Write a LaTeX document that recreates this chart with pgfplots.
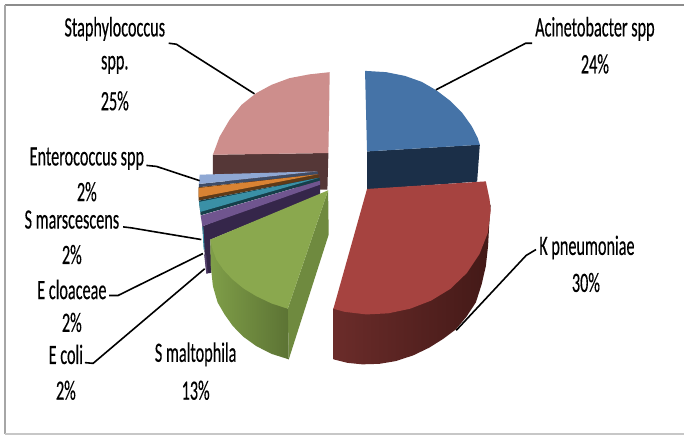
\documentclass[border=0pt]{standalone}
\usepackage{pgfplots}
\pgfplotsset{compat=1.18}
\usepackage{fontspec}
\setmainfont{Carlito}
\definecolor{blueT}{HTML}{4573A7}\definecolor{blueS}{HTML}{1B2F48}
\definecolor{redT}{HTML}{A64340}\definecolor{redA}{HTML}{6B2C2A}\definecolor{redB}{HTML}{431917}
\definecolor{greenT}{HTML}{8AA84E}\definecolor{greenS}{HTML}{6F8A3F}\definecolor{greenA}{HTML}{7F9E48}\definecolor{greenB}{HTML}{5C7334}
\definecolor{pinkT}{HTML}{CD8E8C}\definecolor{pinkS}{HTML}{553737}
\definecolor{periT}{HTML}{8FA8D4}\definecolor{periS}{HTML}{3E4C66}
\definecolor{oranT}{HTML}{D98333}\definecolor{oranS}{HTML}{5E3A18}
\definecolor{tealT}{HTML}{3A90A6}\definecolor{tealS}{HTML}{163F4A}
\definecolor{purpT}{HTML}{70558F}\definecolor{purpS}{HTML}{35264A}
\newcommand{\lab}[3]{\node[inner sep=0pt,anchor=center] at (axis cs:#1,#2) {\fontsize{28}{28}\selectfont\addfontfeature{FakeBold=0.4}\scalebox{0.58}[1]{#3}};}
\tikzset{leader/.style={black,solid,no markers,line width=1.6pt}}
\begin{document}
\begin{tikzpicture}
\begin{axis}[
  width=685pt,height=436pt,scale only axis,
  xmin=0,xmax=685,ymin=0,ymax=436,y dir=reverse,
  hide axis,clip=false]
% page background
\addplot[fill=white,draw=none] coordinates {(0,0) (685,0) (685,436) (0,436)} --cycle;
% outer frame
\addplot[draw=black!45,line width=2.5pt,no markers] coordinates {(5,5) (685,5)};
\addplot[draw=black!35,line width=1.5pt,no markers] coordinates {(5,5) (5,435)};
\addplot[draw=black!22,line width=1.5pt,no markers] coordinates {(5,435) (685,435)};
% Staphylococcus
\addplot[fill=pinkS,draw=none] coordinates {(213.3,155) (329,153.3) (328,190) (320,190) (213.3,180)} --cycle;
\addplot[fill=pinkT,draw=none] coordinates {(329,153.3) (330.3,72.3) (310,74.5) (290,78.3) (272,85) (256.7,93.3) (242,105) (230,120) (220,137) (213.3,155)} --cycle;
% Acinetobacter
\addplot[fill=blueS,draw=none] coordinates {(367.7,151.7) (480.7,145) (478,182) (367.7,190)} --cycle;
\addplot[fill=blueT,draw=none] coordinates {(367.7,151.7) (365.7,71) (387,72.3) (405.5,76) (422.5,82) (437.5,90.7) (451,101) (463,113) (472.5,126.3) (478.5,138) (480.7,145)} --cycle;
% Enterococcus
\addplot[fill=periS,draw=none] coordinates {(318.3,172) (199.3,184.3) (199.3,187.5) (318.5,174.5)} --cycle;
\addplot[fill=periT,draw=none] coordinates {(318.3,171.7) (200,175) (199.3,184.3)} --cycle;
% unlabelled orange slice
\addplot[fill=oranS,draw=none] coordinates {(319,175) (199,187.5) (199,201) (319.5,178)} --cycle;
\addplot[fill=oranT,draw=none] coordinates {(319,174.5) (199,188.3) (199,197.7)} --cycle;
% S marscescens
\addplot[fill=tealS,draw=none] coordinates {(320,178) (199.3,201) (201,215.7) (320.5,181)} --cycle;
\addplot[fill=tealT,draw=none] coordinates {(320,178) (199.3,202.3) (200.7,212.3)} --cycle;
% E cloaceae
\addplot[fill=purpS,draw=none] coordinates {(320.7,181) (202.7,226.7) (206.7,274) (211.7,273.3) (210.7,240) (320.7,195)} --cycle;
\addplot[fill=purpT,draw=none] coordinates {(320.7,181) (201,216) (202.7,226.7) (320.7,185)} --cycle;
\addplot[fill=tealT,draw=none] coordinates {(202.7,227) (204,250) (205,250) (203.7,227)} --cycle;
\addplot[fill=purpT!75!black,draw=none] coordinates {(204.5,255) (206.7,274) (208,274) (206.5,255)} --cycle;
% S maltophila
\addplot[fill=greenS,draw=none] coordinates {(328.7,190.7) (329.3,235) (289.3,360) (288.3,309.3)} --cycle;
\addplot[left color=greenA,right color=greenB,draw=none] coordinates {(210.7,240) (211,265) (213.3,286.7) (218,303) (225,315) (233.3,326.7) (244,337.5) (256.7,346.7) (272,354.5) (289.3,360) (288.3,309.3)} --cycle;
\addplot[fill=greenT,draw=none] coordinates {(328.7,190.7) (210.7,240) (213,250) (216.7,260) (224,270.5) (233,280) (244,289) (256.7,296.7) (272,304) (288.3,309.3)} --cycle;
% K pneumoniae
\addplot[left color=redA,right color=redB,draw=none] coordinates {(334,309) (334,360) (348,363.5) (363,365) (380,364.5) (396.7,361.7) (414,356) (430,348.3) (444,339.5) (456.7,330) (467.5,317) (476.7,303) (482.5,285) (486.7,266.7) (489,246) (490,226.7) (491.6,205) (400,250)} --cycle;
\addplot[fill=redT,draw=none] coordinates {(367.7,189.3) (486.7,181.7) (490.5,199.8) (491.6,211) (488.7,233.3) (480.4,254.5) (467.7,273.5) (451.2,289.4) (431.8,301.2) (410.8,309.3) (389,313.9) (367,315) (345.2,312.4) (334,309.3)} --cycle;
% leader lines
\addplot[leader] coordinates {(169,43.3) (176.7,44.3) (255,94)};
\addplot[leader] coordinates {(533,43.3) (526.7,43.3) (436.7,90)};
\addplot[leader] coordinates {(537,250) (527,256) (457,331)};
\addplot[leader] coordinates {(146.7,165.7) (156.7,166.7) (200,181)};
\addplot[leader] coordinates {(123.3,227.3) (131.7,228.3) (201.7,240)};
\addplot[leader] coordinates {(109.3,296) (118.3,296) (203.3,254)};
\addplot[leader] coordinates {(85,363.3) (93.3,364) (205,269.3)};
% labels
\lab{115}{29}{Staphylococcus}
\lab{115}{65}{spp.}
\lab{115}{101}{25\%}
\lab{87}{159}{Enterococcus spp}
\lab{87}{192}{2\%}
\lab{72}{220}{S marscescens}
\lab{72}{255}{2\%}
\lab{72}{290}{E cloaceae}
\lab{72}{323}{2\%}
\lab{66}{355}{E coli}
\lab{66}{391}{2\%}
\lab{196}{355}{S maltophila}
\lab{196}{391}{13\%}
\lab{596}{29}{Acinetobacter spp}
\lab{596}{64}{24\%}
\lab{588}{248}{K pneumoniae}
\lab{587}{283}{30\%}
\end{axis}
\end{tikzpicture}
\end{document}
